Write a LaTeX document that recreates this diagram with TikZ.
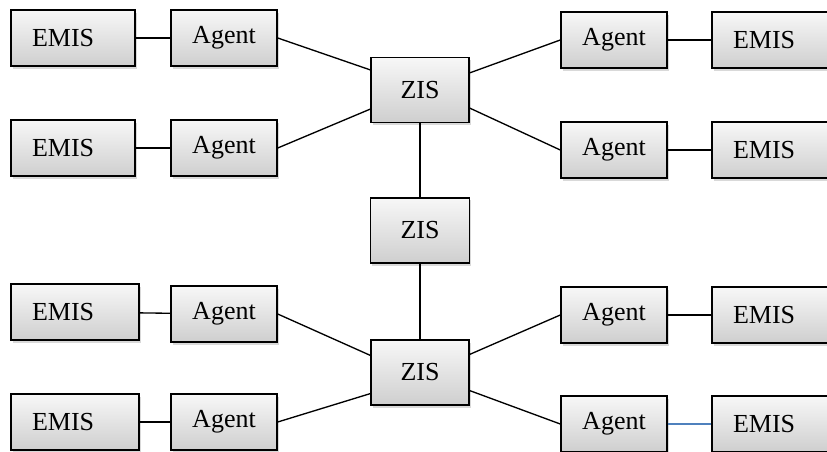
\documentclass[tikz,border=0pt]{standalone}
\usepackage{fontspec}
\setmainfont{Liberation Serif}
\usetikzlibrary{shapes,arrows,positioning,shadows}
\definecolor{linkblue}{RGB}{79,129,189}

\begin{document}
\begin{tikzpicture}[x=0.75pt,y=-0.75pt]
            \tikzstyle{box} = [rectangle, draw, line width=1.1pt, top color=gray!6, bottom color=gray!38, minimum height=42pt, drop shadow={shadow xshift=1.2pt, shadow yshift=-2pt, opacity=0.3}, font=\fontsize{19.5}{22}\selectfont]
            \tikzstyle{emis} = [box, text width=61.5pt, inner xsep=15.75pt, align=left]
            \tikzstyle{agent} = [box, minimum width=79.5pt, text centered]
            \tikzstyle{zis} = [box, minimum width=73.5pt, minimum height=49pt, text centered]
            \tikzstyle{link} = [line width=1pt]

            \useasboundingbox (0,0) rectangle (827,452);
            \clip (0,0) rectangle (827,452);

            % hubs
            \node [zis] (zistop) at (420,90) {ZIS};
            \node [zis, minimum width=74.25pt] (zismid) at (420,230.5) {ZIS};
            \node [zis] (zisbot) at (420,372.5) {ZIS};

            % left side
            \node [agent] (agentlt) at (224,38) {Agent};
            \node [agent] (agentlu) at (224,148) {Agent};
            \node [agent] (agentll) at (224,314) {Agent};
            \node [agent] (agentlb) at (224,422) {Agent};
            \node [emis] (emislt) at (73,38) {EMIS};
            \node [emis] (emislu) at (73,148) {EMIS};
            \node [emis, text width=64.5pt] (emisll) at (75,312) {EMIS};
            \node [emis, text width=64.5pt] (emislb) at (75,422) {EMIS};

            % right side
            \node [agent] (agentrt) at (614,40) {Agent};
            \node [agent] (agentru) at (614,150) {Agent};
            \node [agent] (agentrl) at (614,315) {Agent};
            \node [agent] (agentrb) at (614,424) {Agent};
            \node [emis, text width=64.5pt] (emisrt) at (776,40) {EMIS};
            \node [emis, text width=64.5pt] (emisru) at (776,150) {EMIS};
            \node [emis, text width=64.5pt] (emisrl) at (776,315) {EMIS};
            \node [emis, text width=64.5pt] (emisrb) at (776,424) {EMIS};

            \draw [link] (zistop) -- (zismid);
            \draw [link] (zismid) -- (zisbot);

            \draw [link] (emislt) -- (agentlt);
            \draw [link] (emislu) -- (agentlu);
            \draw [link] (emisll) -- (agentll);
            \draw [link] (emislb) -- (agentlb);
            \draw [link] (agentrt) -- (emisrt);
            \draw [link] (agentru) -- (emisru);
            \draw [link] (agentrl) -- (emisrl);
            \draw [link, linkblue] (agentrb) -- (emisrb);

            \draw [link] (agentlt.east) -- (zistop.158);
            \draw [link] (agentlu.east) -- (zistop.201);
            \draw [link] (agentrt.west) -- (zistop.19);
            \draw [link] (agentru.west) -- (zistop.340);
            \draw [link] (agentll.east) -- (zisbot.161);
            \draw [link] (agentlb.east) -- (zisbot.203);
            \draw [link] (agentrl.west) -- (zisbot.20);
            \draw [link] (agentrb.west) -- (zisbot.340);
        \end{tikzpicture}
\end{document}
